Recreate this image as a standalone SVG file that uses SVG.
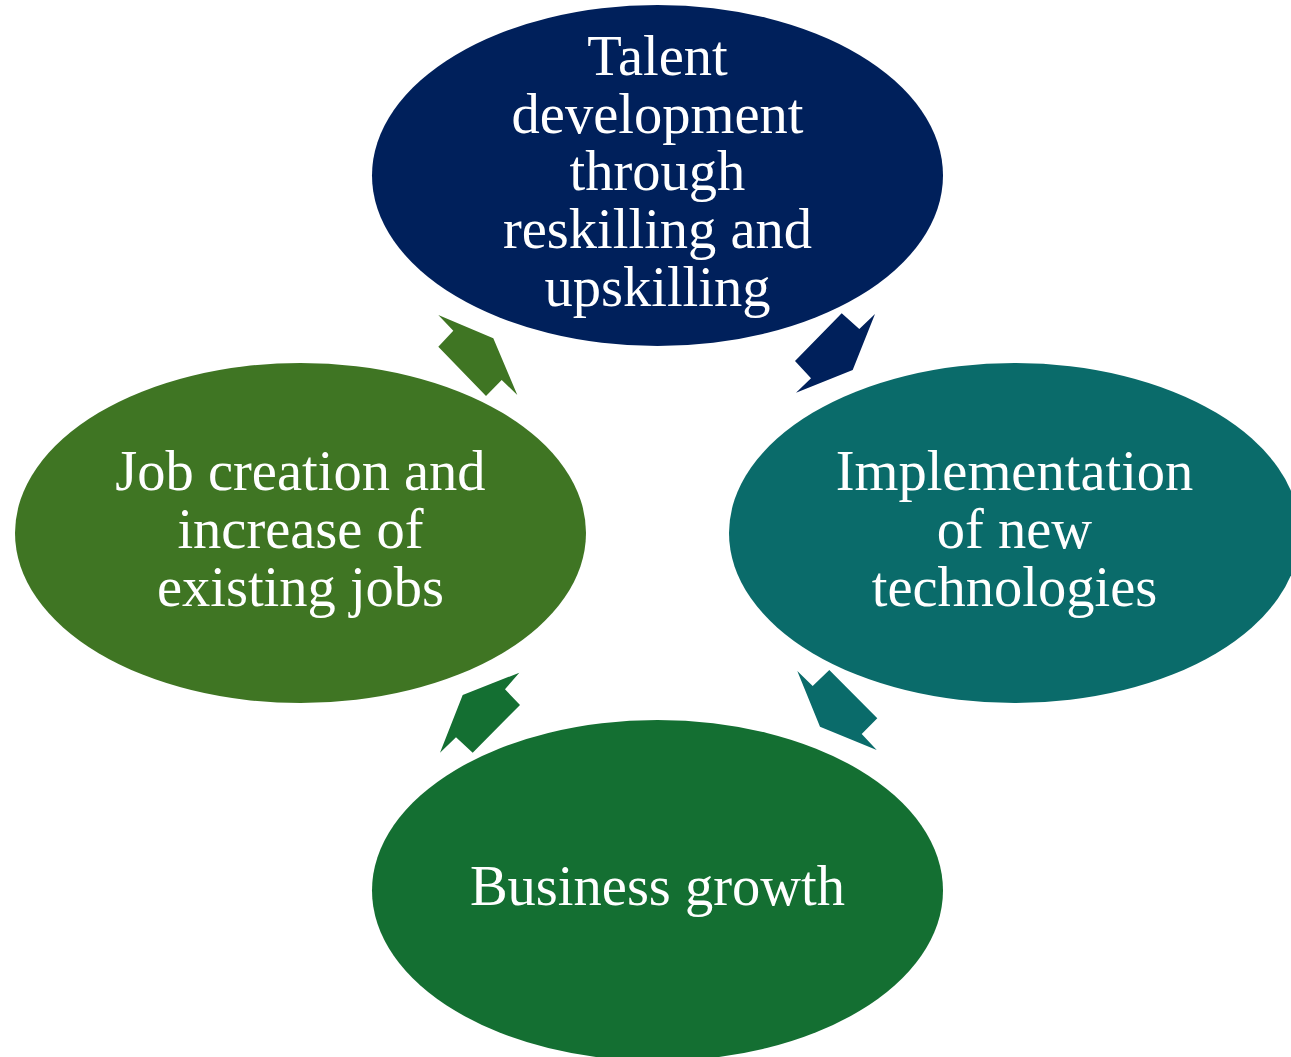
<svg xmlns="http://www.w3.org/2000/svg" width="1291" height="1057" viewBox="0 0 1291 1057">
<style>
.t{font-family:"Liberation Serif","Times New Roman",serif;font-size:56.5px;fill:#ffffff;text-anchor:middle}
</style>
<rect width="1291" height="1057" fill="#ffffff"/>
<g id="connectors">
<polygon fill="#00205B" points="795,361 811,378.3 796,392.7 852.7,370 875,314 859.3,329 841.7,313.3"/>
<polygon fill="#0A6B6A" points="797.3,671 812.7,686 829.3,670 877.3,718.3 861.7,734 876.7,750 820,726.7"/>
<polygon fill="#146F32" points="519.3,672.7 505,689.3 520,705 472.7,752.7 456,737.3 440,752.7 462.7,695"/>
<polygon fill="#3F7523" points="438.3,315 493.3,338.3 517.3,395 501.7,380 486,396 438.3,346.7 453.3,330.7"/>
</g>
<g id="node-talent">
<ellipse cx="657.5" cy="175.5" rx="285.5" ry="170.5" fill="#00205B"/>
<text class="t" x="657.5" y="75">Talent</text>
<text class="t" x="657.5" y="133">development</text>
<text class="t" x="657.5" y="190">through</text>
<text class="t" x="657.5" y="248">reskilling and</text>
<text class="t" x="657.5" y="306">upskilling</text>
</g>
<g id="node-implementation">
<ellipse cx="1014.5" cy="533" rx="285.5" ry="170" fill="#0A6B6A"/>
<text class="t" x="1014.5" y="490">Implementation</text>
<text class="t" x="1014.5" y="548">of new</text>
<text class="t" x="1014.5" y="606">technologies</text>
</g>
<g id="node-business">
<ellipse cx="657.5" cy="890.5" rx="285.5" ry="170.5" fill="#146F32"/>
<text class="t" x="657.5" y="905">Business growth</text>
</g>
<g id="node-jobs">
<ellipse cx="300.5" cy="533" rx="285.5" ry="170" fill="#3F7523"/>
<text class="t" x="300.5" y="490">Job creation and</text>
<text class="t" x="300.5" y="548">increase of</text>
<text class="t" x="300.5" y="606">existing jobs</text>
</g>
</svg>
